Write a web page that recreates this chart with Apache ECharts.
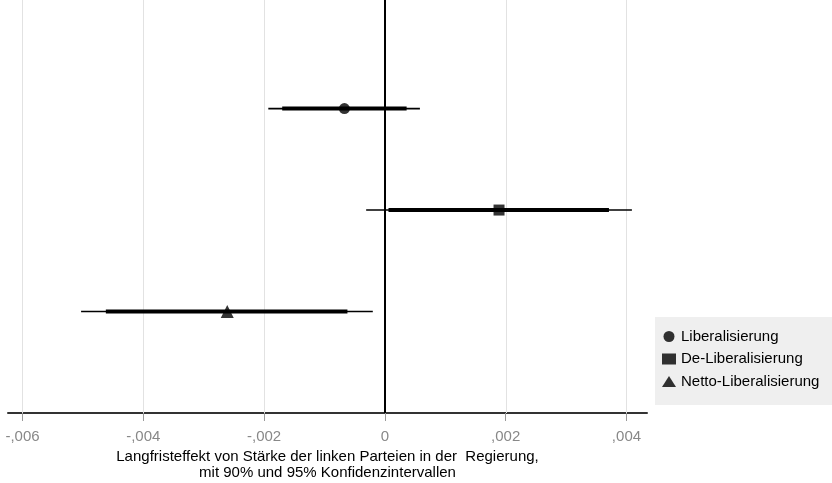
<!DOCTYPE html>
<html>
<head>
<meta charset="utf-8">
<script src="https://cdn.jsdelivr.net/npm/echarts@6/dist/echarts.min.js"></script>
<style>
html,body{margin:0;padding:0;background:#fff;}
#chart{width:832px;height:483px;}
</style>
</head>
<body>
<div id="chart"></div>
<script>
var categories = ['Liberalisierung', 'De-Liberalisierung', 'Netto-Liberalisierung'];
var rowPos = [3, 2, 1];
var estimates = [-0.00067, 0.00189, -0.00261];
var lo90 = [-0.00170, 0.00006, -0.00462];
var hi90 = [0.00036, 0.00371, -0.00062];
var lo95 = [-0.00193, -0.00031, -0.00503];
var hi95 = [0.00058, 0.00409, -0.00020];
var symbols = ['circle', 'rect', 'triangle'];
var symbolSizes = [11, 11, 13];
var tickVals = [-0.006, -0.004, -0.002, 0, 0.002, 0.004];

var FONT = '"Liberation Sans", Arial, sans-serif';
var Y_MIN = 0, Y_MAX = 4.07;

function fmt(v) {
  if (Math.abs(v) < 1e-12) return '0';
  var s = Math.abs(v).toFixed(3).replace('0.', ',');
  return (v < 0 ? '-' : '') + s;
}

var ciData = categories.map(function (c, i) {
  return [rowPos[i], lo95[i], hi95[i], lo90[i], hi90[i]];
});

var series = [];

// vertical reference lines (grid lines at ticks, black line at zero)
series.push({
  type: 'custom',
  name: 'gridlines',
  silent: true,
  z: 1,
  data: tickVals.map(function (v) { return [v]; }),
  encode: { x: 0 },
  renderItem: function (params, api) {
    var v = api.value(0);
    var p1 = api.coord([v, Y_MIN]);
    var p2 = api.coord([v, Y_MAX]);
    var isZero = Math.abs(v) < 1e-12;
    var x = isZero ? Math.round(p1[0]) : Math.round(p1[0]) + 0.5;
    return {
      type: 'line',
      z2: isZero ? 10 : 1,
      shape: { x1: x, y1: p1[1], x2: x, y2: p2[1] },
      style: { stroke: isZero ? '#000' : '#e2e2e2', lineWidth: isZero ? 2 : 1 }
    };
  }
});

series.push({
  type: 'custom',
  name: 'CI',
  silent: true,
  z: 2,
  data: ciData,
  encode: { x: [1, 2, 3, 4], y: 0 },
  renderItem: function (params, api) {
    var y = api.value(0);
    var a = api.coord([api.value(1), y]);
    var b = api.coord([api.value(2), y]);
    var c = api.coord([api.value(3), y]);
    var d = api.coord([api.value(4), y]);
    return {
      type: 'group',
      children: [
        { type: 'line', shape: { x1: a[0], y1: a[1], x2: b[0], y2: b[1] }, style: { stroke: '#000', lineWidth: 1.6 } },
        { type: 'line', shape: { x1: c[0], y1: c[1], x2: d[0], y2: d[1] }, style: { stroke: '#000', lineWidth: 4 } }
      ]
    };
  }
});

categories.forEach(function (c, i) {
  series.push({
    type: 'scatter',
    name: c,
    z: 5,
    symbol: symbols[i],
    symbolSize: symbolSizes[i],
    itemStyle: { color: '#000' },
    data: [[estimates[i], rowPos[i]]]
  });
});

var chart = echarts.init(document.getElementById('chart'));
chart.setOption({
  animation: false,
  backgroundColor: '#fff',
  grid: { left: 8, right: 185, top: 0, bottom: 70, containLabel: false, outerBoundsMode: 'none' },
  xAxis: {
    type: 'value',
    min: -0.00624,
    max: 0.00434,
    name: 'Langfristeffekt von Stärke der linken Parteien in der  Regierung,\nmit 90% und 95% Konfidenzintervallen',
    nameLocation: 'middle',
    nameGap: 35,
    nameTextStyle: { color: '#000', fontSize: 15, fontFamily: FONT, lineHeight: 16 },
    axisLine: { show: true, onZero: false, lineStyle: { color: '#333', width: 2 } },
    axisTick: { show: true, length: 8, customValues: tickVals, lineStyle: { color: '#999', width: 1 } },
    axisLabel: { show: true, customValues: tickVals, formatter: fmt, color: '#888', fontSize: 15, fontFamily: FONT, margin: 16 },
    splitLine: { show: false }
  },
  yAxis: {
    type: 'value',
    min: Y_MIN,
    max: Y_MAX,
    show: false
  },
  legend: {
    data: categories,
    orient: 'vertical',
    left: 655,
    top: 317,
    backgroundColor: '#efefef',
    padding: [12, 22, 16, 7],
    itemWidth: 14,
    itemHeight: 11,
    itemGap: 7.5,
    selectedMode: false,
    textStyle: { color: '#000', fontSize: 15, fontFamily: FONT }
  },
  series: series
});
</script>
</body>
</html>
